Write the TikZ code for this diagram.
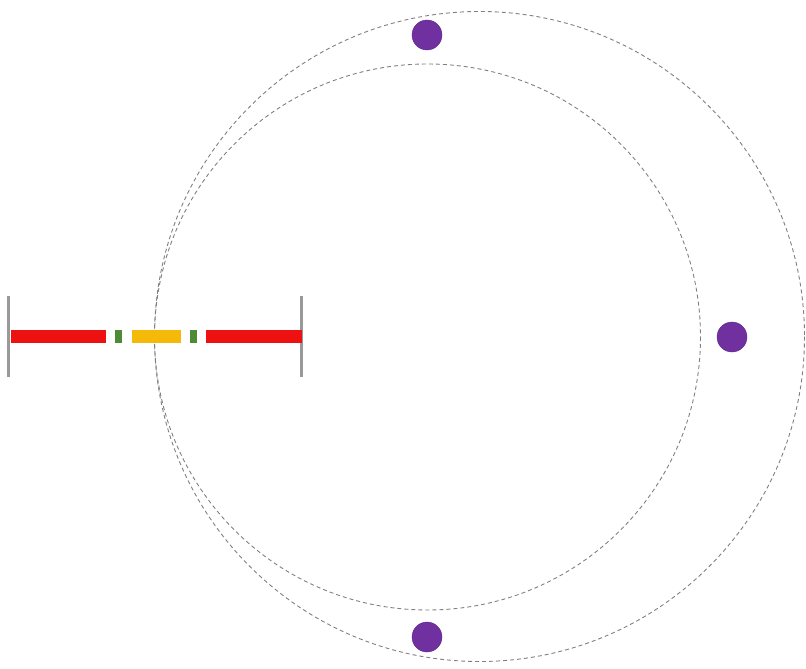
\documentclass[tikz,border=0pt]{standalone}
\usetikzlibrary{positioning}
\definecolor{barred}{HTML}{EE1111}
\definecolor{bargreen}{HTML}{4F8A35}
\definecolor{barorange}{HTML}{F5B90A}
\definecolor{dotpurple}{HTML}{7030A0}
\definecolor{stopgray}{HTML}{999999}
\definecolor{orbitgray}{HTML}{808080}
\begin{document}
\begin{tikzpicture}[x=1pt, y=-1pt,
  orbit/.style={draw=orbitgray, dash pattern=on 4pt off 3pt, line width=0.9pt},
  planet/.style={circle, fill=dotpurple, draw=dotpurple!85!black, minimum size=30pt, inner sep=0pt},
  seg/.style={rectangle, inner sep=0pt, minimum height=12.5pt},
  stopper/.style={rectangle, fill=stopgray, inner sep=0pt, minimum width=3pt, minimum height=81pt}
]
\useasboundingbox (0,0) rectangle (806,669);

% orbits
\draw[orbit] (479.5,336.5) circle (325);
\draw[orbit] (427.5,337) circle (273);

% bar
\node[stopper] (LS) at (8.5,336.5) {};
\node[stopper] (RS) at (301.5,336.5) {};
\node[seg, fill=barred, minimum width=95pt, anchor=west] (R1) at (11,336.5) {};
\node[seg, fill=bargreen, minimum width=7pt, right=8pt of R1] (G1) {};
\node[seg, fill=barorange, minimum width=49.6pt, right=9.7pt of G1] (O) {};
\node[seg, fill=bargreen, minimum width=7.3pt, right=8.4pt of O] (G2) {};
\node[seg, fill=barred, minimum width=96pt, right=8.3pt of G2] (R2) {};

% planets
\node[planet] (PT) at (427,35) {};
\node[planet] (PR) at (732,337) {};
\node[planet] (PB) at (427,637) {};

\end{tikzpicture}
\end{document}
